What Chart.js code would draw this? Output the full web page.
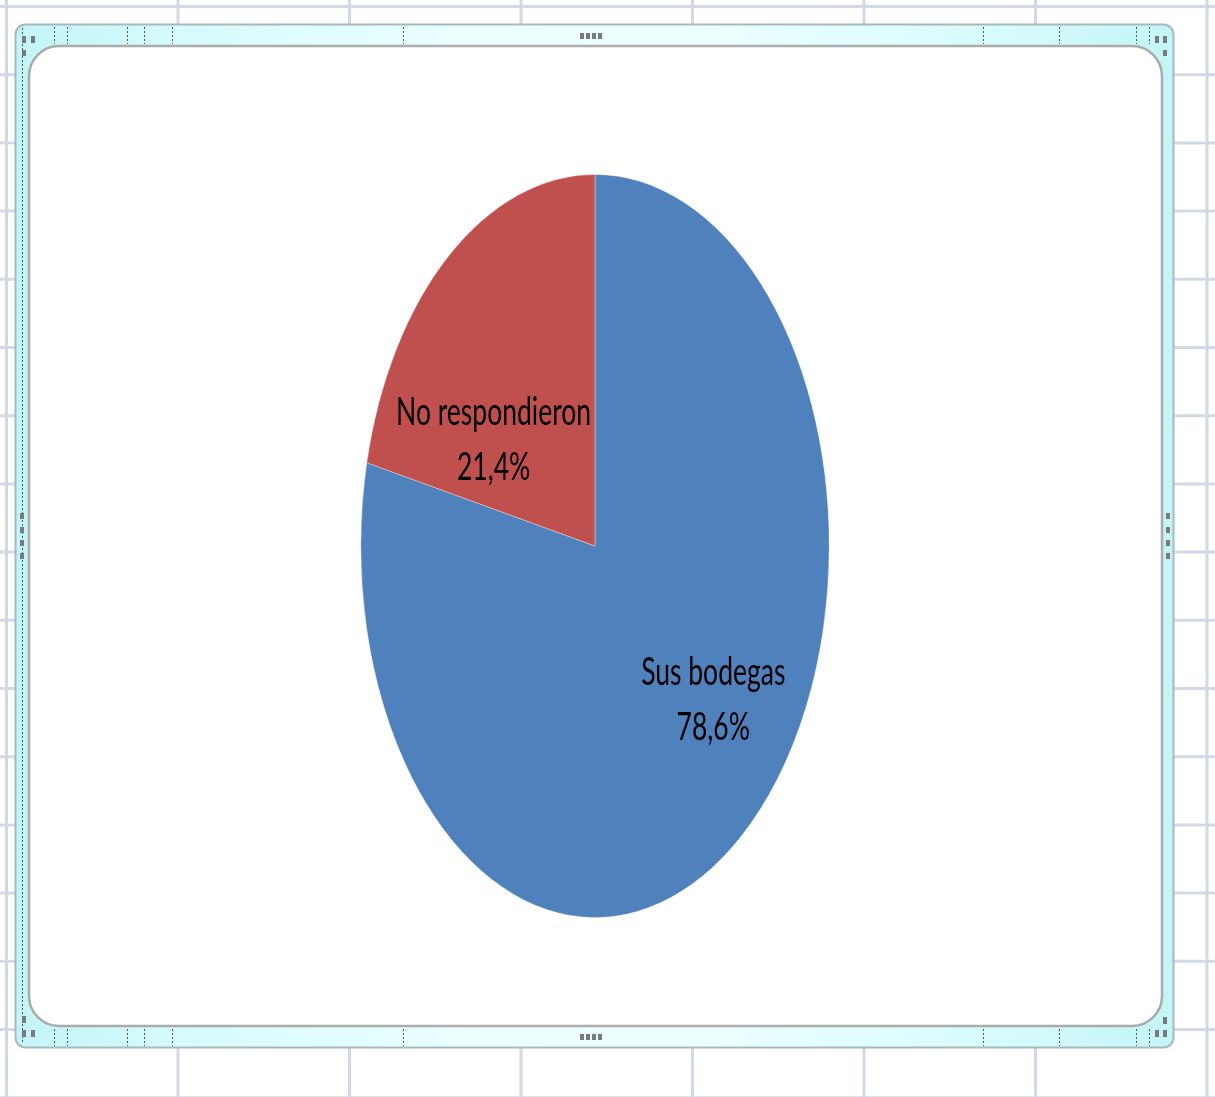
<!DOCTYPE html>
<html>
<head>
<meta charset="utf-8">
<script src="https://cdn.jsdelivr.net/npm/chart.js@4/dist/chart.umd.min.js"></script>
<style>
  html, body { margin: 0; padding: 0; background: #ffffff; }
  #wrap { position: relative; width: 1215px; height: 1097px; }
</style>
</head>
<body>
<div id="wrap"><canvas id="c" width="1215" height="1097"></canvas></div>
<script>
// Survey answers and their share of responses (percent)
const categories = ['Sus bodegas', 'No respondieron'];
const percentages = [78.6, 21.4];
const sliceColors = ['#4f81bd', '#c0504d'];

// "78,6%" style text, built from the same values the slices use
const percentText = percentages.map(v => v.toFixed(1).replace('.', ',') + '%');

// Worksheet cells and the selected chart frame behind the pie
const sheetBackdrop = {
  id: 'sheetBackdrop',
  beforeDraw(chart) {
    const ctx = chart.ctx;
    ctx.save();
    ctx.fillStyle = '#ffffff';
    ctx.fillRect(0, 0, chart.width, chart.height);

    // cell grid
    ctx.strokeStyle = '#d2d9e6';
    ctx.lineWidth = 3;
    ctx.beginPath();
    for (let i = 0; i < 8; i++) {
      const x = 6.5 + i * 171.5;
      ctx.moveTo(x, 0); ctx.lineTo(x, chart.height);
    }
    for (let j = 0; j < 17; j++) {
      const y = 6.5 + j * 68.2;
      ctx.moveTo(0, y); ctx.lineTo(chart.width, y);
    }
    ctx.stroke();

    // outer selection band
    const band = ctx.createLinearGradient(15, 0, 1174, 0);
    band.addColorStop(0, '#c2f5f7');
    band.addColorStop(0.12, '#d4fafb');
    band.addColorStop(0.4, '#ecffff');
    band.addColorStop(0.6, '#ecffff');
    band.addColorStop(0.88, '#d4fafb');
    band.addColorStop(1, '#c2f5f7');
    ctx.beginPath();
    ctx.roundRect(15.5, 24.5, 1158, 1023, 10);
    ctx.fillStyle = band;
    ctx.fill();
    ctx.lineWidth = 2;
    ctx.strokeStyle = '#a9b8bc';
    ctx.stroke();

    // dashed markers across the band
    ctx.lineWidth = 1;
    ctx.strokeStyle = '#555555';
    ctx.setLineDash([2, 2]);
    ctx.beginPath();
    [54, 67, 127, 144, 172, 403, 983, 1059, 1136, 1149].forEach(x => {
      ctx.moveTo(x + 0.5, 27); ctx.lineTo(x + 0.5, 44);
      ctx.moveTo(x + 0.5, 1029); ctx.lineTo(x + 0.5, 1046);
    });
    ctx.moveTo(22.5, 28); ctx.lineTo(22.5, 1044);
    ctx.stroke();
    ctx.setLineDash([]);

    // white plot panel
    ctx.beginPath();
    ctx.roundRect(29, 46, 1133, 980, 30);
    ctx.fillStyle = '#ffffff';
    ctx.fill();
    ctx.lineWidth = 2.5;
    ctx.strokeStyle = '#ababab';
    ctx.stroke();

    // sizing handles
    ctx.fillStyle = '#7a7a7a';
    const sq = (x, y, w, h) => ctx.fillRect(x, y, w, h);
    sq(22, 36, 4, 7); sq(31, 36, 4, 7); sq(22, 50, 4, 6);
    sq(1155, 36, 4, 7); sq(1163, 36, 4, 7); sq(1163, 50, 4, 6);
    sq(22, 1016, 4, 7); sq(22, 1030, 4, 7); sq(31, 1030, 4, 7);
    sq(1163, 1017, 4, 7); sq(1155, 1030, 4, 7); sq(1163, 1030, 4, 7);
    [580, 586, 592, 598].forEach(x => { sq(x, 33, 4, 6); sq(x, 1034, 4, 6); });
    [513, 527, 540, 553].forEach(y => { sq(20, y, 4, 6); sq(1166, y, 4, 6); });
    ctx.restore();
  }
};

// Stretch the round pie vertically so it fills the tall plot area as an ellipse
const ellipsePie = {
  id: 'ellipsePie',
  beforeDatasetsDraw(chart) {
    const a = chart.chartArea;
    const arc = chart.getDatasetMeta(0).data[0];
    const k = a.height / a.width;
    const ctx = chart.ctx;
    ctx.save();
    ctx.translate(arc.x, arc.y);
    ctx.scale(1, k);
    ctx.translate(-arc.x, -arc.y);
  },
  afterDatasetsDraw(chart) {
    chart.ctx.restore();
  }
};

// Two-line labels (category + percentage) inside each slice
const sliceLabels = {
  id: 'sliceLabels',
  afterDraw(chart, args, opts) {
    const ctx = chart.ctx;
    const a = chart.chartArea;
    const k = a.height / a.width;
    const meta = chart.getDatasetMeta(0);
    ctx.save();
    ctx.fillStyle = opts.color;
    ctx.font = opts.font;
    ctx.textAlign = 'center';
    ctx.textBaseline = 'middle';
    meta.data.forEach((arc, i) => {
      const rx = arc.outerRadius;
      const ry = rx * k;
      const [fx, fy] = opts.anchors[i];
      const x = arc.x + fx * rx;
      const y = arc.y + fy * ry;
      [categories[i], percentText[i]].forEach((t, li) => {
        const ly = y + (li - 0.5) * opts.lineGap;
        ctx.save();
        ctx.translate(x, ly);
        ctx.scale(1, opts.stretch);
        ctx.fillText(t, 0, 0);
        ctx.restore();
      });
    });
    ctx.restore();
  }
};

new Chart(document.getElementById('c'), {
  type: 'pie',
  data: {
    labels: categories,
    datasets: [{
      data: percentages,
      backgroundColor: sliceColors,
      borderColor: 'rgba(255,255,255,0.45)',
      borderWidth: 0.6
    }]
  },
  options: {
    responsive: false,
    animation: false,
    events: [],
    layout: { padding: { left: 360.5, right: 385.5, top: 174, bottom: 179 } },
    plugins: {
      legend: { display: false },
      tooltip: { enabled: false },
      sliceLabels: {
        color: '#000000',
        font: '26.5px Lato',
        stretch: 1.47,
        lineGap: 55,
        anchors: [[0.505, 0.414], [-0.433, -0.285]]
      }
    }
  },
  plugins: [sheetBackdrop, ellipsePie, sliceLabels]
});
</script>
</body>
</html>
